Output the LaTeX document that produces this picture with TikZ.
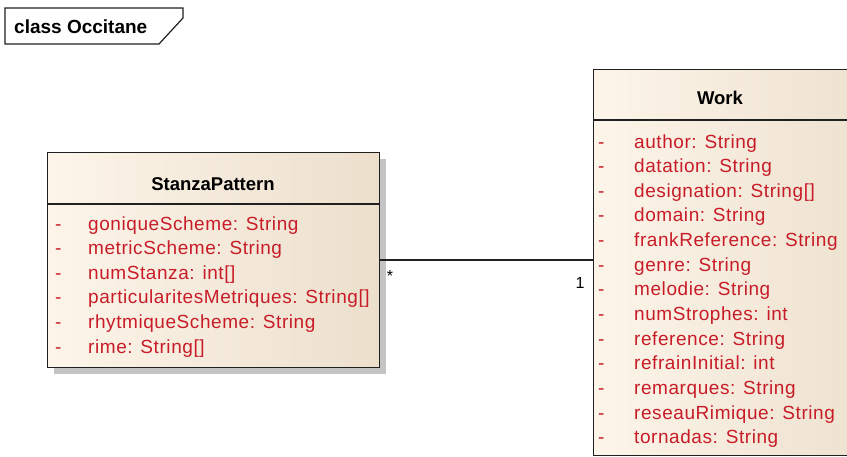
\documentclass[tikz,border=0pt]{standalone}
\usepackage{fontspec}
\setmainfont{Liberation Sans}
\newfontfamily\attrfont[LetterSpace=3]{Liberation Sans}
\usetikzlibrary{shadows}
\definecolor{boxleft}{RGB}{253,245,234}
\definecolor{boxright}{RGB}{236,223,204}
\definecolor{attrred}{RGB}{200,28,40}
\definecolor{edge}{RGB}{32,32,32}
\definecolor{shade}{RGB}{196,196,196}
\tikzset{
  classbox/.style={draw=edge, line width=1.3pt, rectangle, anchor=north west,
    left color=boxleft, right color=boxright, inner sep=0pt},
  boxshadow/.style={drop shadow={shadow xshift=6pt, shadow yshift=-6pt, fill=shade, opacity=1}},
  classtitle/.style={anchor=base, font=\fontsize{18.5}{20}\selectfont\bfseries, inner sep=0pt},
  attr/.style={anchor=base west, text=attrred, font=\attrfont\fontsize{19}{22}\selectfont, inner sep=0pt},
  mult/.style={anchor=base, font=\fontsize{16}{18}\selectfont, inner sep=0pt},
  frame/.style={draw=edge, line width=1.2pt, fill=white},
}
\begin{document}
\begin{tikzpicture}[x=1pt, y=-1pt]
\clip (0,0) rectangle (847,456);
\fill[white] (0,0) rectangle (847,456);

% diagram frame label
\draw[frame] (5,8) -- (183,8) -- (183,18) -- (159,44) -- (5,44) -- cycle;
\node[anchor=base west, font=\fontsize{19}{21}\selectfont\bfseries, inner sep=0pt] (framelabel) at (14,33) {class Occitane};

% StanzaPattern class
\node[classbox, boxshadow, minimum width=332pt, minimum height=215pt] (stanza) at (47,152) {};
\draw[edge, line width=1.3pt] (stanza.west |- 0,204) -- (stanza.east |- 0,204);
\node[classtitle] (stanzatitle) at (213,190) {StanzaPattern};
\foreach \t [count=\i from 0] in {goniqueScheme: String, metricScheme: String, numStanza: int[],
    particularitesMetriques: String[], rhytmiqueScheme: String, rime: String[]} {
  \node[attr] (sd\i) at (55,230+24.6*\i) {-};
  \node[attr] (sa\i) at (88,230+24.6*\i) {\t};
}

% Work class
\node[classbox, minimum width=300pt, minimum height=386pt] (work) at (593,69) {};
\draw[edge, line width=1.3pt] (work.west |- 0,120) -- (work.east |- 0,120);
\node[classtitle] (worktitle) at (720,104) {Work};
\foreach \t [count=\i from 0] in {author: String, datation: String, designation: String[],
    domain: String, frankReference: String, genre: String, melodie: String,
    numStrophes: int, reference: String, refrainInitial: int, remarques: String,
    reseauRimique: String, tornadas: String} {
  \node[attr] (wd\i) at (598,148+24.65*\i) {-};
  \node[attr] (wa\i) at (634,148+24.65*\i) {\t};
}

% association
\path (stanza.north east) ++(0,108) coordinate (assocA);
\path (work.west |- assocA) coordinate (assocB);
\draw[edge, line width=1.1pt] (assocA) -- (assocB);
\node[mult] (multA) at (390,281) {*};
\node[mult] (multB) at (580,288) {1};
\end{tikzpicture}
\end{document}
